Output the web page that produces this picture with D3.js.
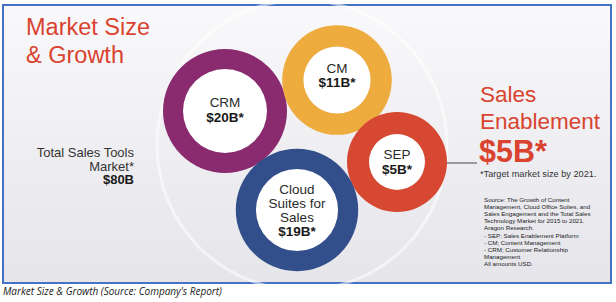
<!DOCTYPE html>
<html>

<head>
    <style>
        body {
            margin: 0;
            background-color: #ffffff;
        }

        svg {
            display: block;
            font-family: "Liberation Sans", Arial, sans-serif;
        }
    </style>
</head>

<body>
    <div id="chart"></div>

    <script src="https://cdn.jsdelivr.net/npm/d3@7"></script>
    <script>
        // market segments (billions USD, target by 2021)
        var segments = ["CRM", "CM", "SEP", "Cloud"];
        var labels = [["CRM"], ["CM"], ["SEP"], ["Cloud", "Suites for", "Sales"]];
        var values = [20, 11, 5, 19];
        var totalMarket = 80;
        var sourceLines = [
            "Source: The Growth of Content",
            "Management, Cloud Office Suites, and",
            "Sales Engagement and the Total Sales",
            "Technology Market for 2015 to 2021.",
            "Aragon Research.",
            "- SEP; Sales Enablement Platform",
            "- CM; Content Management",
            "- CRM; Customer Relationship",
            "Management",
            "All amounts USD."
        ];

        // where each ring sits on the slide: cx, cy, label shift
        var layout = {
            CRM: [225, 111, 3.5],
            CM: [337, 80, 0],
            SEP: [397, 162, 4.5],
            Cloud: [297, 210, 5]
        };
        var colors = {
            CRM: "#8a2b70",
            CM: "#eeab3e",
            SEP: "#d64832",
            Cloud: "#334f8b"
        };

        var width = 616, height = 302;
        var red = "#d9432f";

        var svg = d3.select("#chart").append("svg")
            .attr("width", width)
            .attr("height", height);

        var defs = svg.append("defs");
        var grad = defs.append("linearGradient")
            .attr("id", "bg")
            .attr("x1", 0).attr("y1", 0).attr("x2", 0).attr("y2", 1);
        grad.append("stop").attr("offset", "0%").attr("stop-color", "#f9f9fb");
        grad.append("stop").attr("offset", "100%").attr("stop-color", "#e5e5ea");

        // panel + frame
        svg.append("rect")
            .attr("x", 3).attr("y", 5)
            .attr("width", 608).attr("height", 278)
            .attr("fill", "url(#bg)")
            .attr("stroke", "#4472c4")
            .attr("stroke-width", 2);

        // faint backdrop circle
        svg.append("circle")
            .attr("cx", 302).attr("cy", 145).attr("r", 145)
            .attr("fill", "none")
            .attr("stroke", "#ffffff")
            .attr("stroke-opacity", 0.55)
            .attr("stroke-width", 3);

        var outerR = d3.scaleLinear().domain([5, 20]).range([50, 62]);
        var innerR = d3.scaleLinear().domain([5, 20]).range([28, 42]);
        var arc = d3.arc().startAngle(0).endAngle(2 * Math.PI);

        var data = segments.map(function (s, i) {
            return { key: s, lines: labels[i], value: values[i] };
        });

        // connector from SEP to callout
        svg.append("line")
            .attr("x1", layout.SEP[0] + 26).attr("y1", layout.SEP[1] + 1)
            .attr("x2", 477).attr("y2", layout.SEP[1] + 1)
            .attr("stroke", "#9a9a9a")
            .attr("stroke-width", 2);

        var ring = svg.selectAll("g.ring")
            .data(data)
            .enter()
            .append("g")
            .attr("class", "ring")
            .attr("transform", d => "translate(" + layout[d.key][0] + "," + layout[d.key][1] + ")");

        ring.append("circle")
            .attr("r", d => innerR(d.value))
            .attr("fill", "#ffffff");

        ring.append("path")
            .attr("d", d => arc({ innerRadius: innerR(d.value), outerRadius: outerR(d.value) }))
            .attr("fill", d => colors[d.key]);

        ring.each(function (d) {
            var g = d3.select(this);
            var n = d.lines.length + 1;
            var lh = 14.3;
            var y0 = -((n - 1) * lh) / 2 + layout[d.key][2];
            d.lines.forEach(function (t, i) {
                g.append("text")
                    .attr("text-anchor", "middle")
                    .attr("y", y0 + i * lh)
                    .attr("font-size", "13.5px")
                    .attr("fill", "#2a2a2a")
                    .text(t);
            });
            g.append("text")
                .attr("text-anchor", "middle")
                .attr("y", y0 + d.lines.length * lh)
                .attr("font-size", "13.5px")
                .attr("font-weight", "bold")
                .attr("fill", "#1a1a1a")
                .text("$" + d.value + "B*");
        });

        // title
        var title = svg.append("text")
            .attr("x", 26).attr("y", 35)
            .attr("font-size", "23.5px")
            .attr("fill", red);
        title.append("tspan").attr("x", 26).text("Market Size");
        title.append("tspan").attr("x", 26).attr("dy", 28).text("& Growth");

        // total market
        var total = svg.append("text")
            .attr("text-anchor", "end")
            .attr("font-size", "13px")
            .attr("fill", "#333333");
        total.append("tspan").attr("x", 134).attr("y", 157).text("Total Sales Tools");
        total.append("tspan").attr("x", 134).attr("y", 170.5).text("Market*");
        total.append("tspan").attr("x", 134).attr("y", 184).attr("font-weight", "bold")
            .attr("fill", "#1a1a1a").text("$" + totalMarket + "B");

        // callout
        var sep = data.find(d => d.key === "SEP");
        svg.append("text").attr("x", 480).attr("y", 102)
            .attr("font-size", "22.5px").attr("fill", red).text("Sales");
        svg.append("text").attr("x", 480).attr("y", 129)
            .attr("font-size", "22.5px").attr("fill", red).text("Enablement");
        svg.append("text").attr("x", 479).attr("y", 162)
            .attr("font-size", "30.5px").attr("font-weight", "bold")
            .attr("fill", red).text("$" + sep.value + "B*");
        svg.append("text").attr("x", 480).attr("y", 177)
            .attr("font-size", "9.2px").attr("fill", "#333333")
            .text("*Target market size by 2021.");

        svg.append("g").selectAll("text")
            .data(sourceLines)
            .enter()
            .append("text")
            .attr("x", 484)
            .attr("y", (d, i) => 202 + i * 7.1)
            .attr("font-size", "6.2px")
            .attr("fill", "#222222")
            .text(d => d);

        // caption
        svg.append("text")
            .attr("x", 3).attr("y", 295)
            .attr("font-family", "'Open Sans', sans-serif")
            .attr("font-style", "italic")
            .attr("font-size", "10px")
            .attr("fill", "#222222")
            .text("Market Size & Growth (Source: Company's Report)");
    </script>
</body>

</html>
